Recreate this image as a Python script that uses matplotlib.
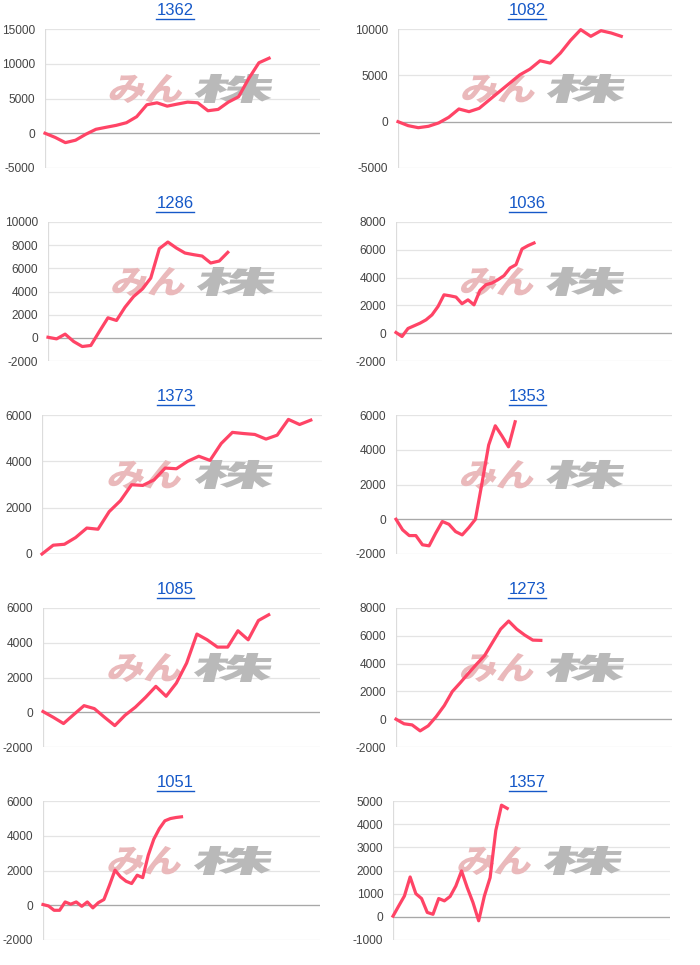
import matplotlib
matplotlib.use("Agg")
import matplotlib.pyplot as plt
from matplotlib.lines import Line2D
from matplotlib.patches import PathPatch
from matplotlib.textpath import TextPath
from matplotlib.font_manager import FontProperties
from matplotlib.transforms import Affine2D
import numpy as np

plt.rcParams["axes.unicode_minus"] = False

# stock codes, in reading order (left->right, top->bottom)
codes = ["1362", "1082", "1286", "1036", "1373", "1353", "1085", "1273", "1051", "1357"]

s1362 = [0, -600, -1350, -1000, -150, 570, 860, 1140, 1520, 2380, 4100, 4380, 3900,
         4200, 4480, 4380, 3240, 3430, 4480, 5240, 7860, 10140, 10800]
s1082 = [0, -430, -650, -500, -140, 470, 1370, 1080, 1440, 2350, 3250, 4150, 5050,
         5670, 6570, 6320, 7400, 8770, 9930, 9210, 9820, 9570, 9210]
s1286 = [50, -90, 320, -320, -750, -660, 550, 1730, 1500, 2650, 3570, 4200, 5160,
         7700, 8270, 7750, 7320, 7180, 7060, 6460, 6630, 7380]
s1036 = [50, -240, 340, 530, 720, 960, 1320, 1920, 2760, 2690, 2600, 2120, 2400,
         2040, 3080, 3490, 3610, 3850, 4140, 4690, 4930, 6060, 6300, 6490]
s1373 = [0, 380, 420, 710, 1120, 1070, 1830, 2300, 2990, 2960, 3200, 3710, 3680,
         4000, 4220, 4040, 4770, 5250, 5200, 5160, 4960, 5130, 5810, 5590, 5780]
s1353 = [0, -610, -940, -940, -1470, -1530, -800, -130, -290, -710, -900, -480, 0,
         2100, 4270, 5380, 4800, 4170, 5610]
s1085 = [40, -290, -650, -130, 380, 210, -290, -770, -170, 290, 860, 1490, 920,
         1680, 2830, 4500, 4170, 3750, 3750, 4690, 4170, 5280, 5610]
s1273 = [0, -330, -410, -840, -480, 190, 980, 1990, 2630, 3300, 3950, 4570, 5530,
         6480, 7060, 6480, 6050, 5690, 5670]
s1051 = [40, -40, -290, -290, 190, 60, 190, -60, 190, -150, 150, 330, 1150, 2020,
         1630, 1380, 1250, 1730, 1590, 2880, 3800, 4410, 4860, 4990, 5050, 5090]
s1357 = [30, 470, 900, 1720, 1000, 790, 190, 110, 790, 690, 880, 1330, 1980, 1260,
         620, -170, 900, 1690, 3730, 4820, 4680]

series = [s1362, s1082, s1286, s1036, s1373, s1353, s1085, s1273, s1051, s1357]

# y tick ranges (min, max, step)
yticks = [(-5000, 15000, 5000), (-5000, 10000, 5000), (-2000, 10000, 2000),
          (-2000, 8000, 2000), (0, 6000, 2000), (-2000, 6000, 2000),
          (-2000, 6000, 2000), (-2000, 8000, 2000), (-2000, 6000, 2000),
          (-1000, 5000, 1000)]

# length of the x domain (number of slots - 1)
x_span = [27, 27, 32, 46, 25, 41.7, 27, 34.3, 50, 48.5]

# layout in pixels
W, H = 700, 965
lefts = [45, 398, 48, 396, 42, 396, 43, 396, 43, 393]
rights = [320, 672, 322, 672, 322, 672, 320, 672, 320, 670]
tops = [29, 222, 415, 608, 801]
ax_h = 139

LINE = "#ff4466"
TITLE = "#1558c8"
mark_font = FontProperties(family="Noto Sans CJK JP", weight="black")


def watermark(ax, text, fx, fy, w, h, color):
    # stretched, slanted text drawn in display pixels
    tp = TextPath((0, 0), text, size=1, prop=mark_font)
    ext = tp.get_extents()
    px, py = ax.transAxes.transform((fx, fy))
    tr = (Affine2D()
          .translate(-ext.x0 - ext.width / 2, -ext.y0 - ext.height / 2)
          .scale(w / ext.width, h / ext.height)
          .skew_deg(14, 0)
          .translate(px, py))
    patch = PathPatch(tr.transform_path(tp), facecolor=color, edgecolor="none",
                      transform=None, zorder=1.5)
    patch.set_transform(Affine2D())
    ax.add_artist(patch)


fig = plt.figure(figsize=(W / 100, H / 100), dpi=100)
fig.patch.set_facecolor("white")

titles = []
for i, (code, vals) in enumerate(zip(codes, series)):
    row = i // 2
    l, r, t = lefts[i], rights[i], tops[row]
    ax = fig.add_axes([l / W, 1 - (t + ax_h) / H, (r - l) / W, ax_h / H])

    lo, hi, step = yticks[i]
    ax.set_ylim(lo, hi)
    ax.set_yticks(np.arange(lo, hi + 1, step))
    ax.set_xlim(0, x_span[i])
    ax.set_xticks([])
    ax.tick_params(axis="y", length=0, pad=7, labelsize=8.6, labelcolor="#444444")
    for lab in ax.get_yticklabels():
        lab.set_fontfamily("Liberation Sans")
    for sp in ax.spines.values():
        sp.set_visible(False)
    ax.grid(axis="y", color="#e4e4e4", linewidth=0.9)
    ax.set_axisbelow(True)
    ax.axhline(0, color="#a8a8a8", linewidth=0.9, zorder=1)
    ax.axvline(0, color="#dcdcdc", linewidth=0.9, zorder=1)

    watermark(ax, "みん", 0.372, 0.572, 72, 29, "#eab9bb")
    watermark(ax, "株", 0.69, 0.572, 78, 29, "#b9b9b9")

    ax.plot(np.arange(len(vals)), vals, color=LINE, linewidth=2.3,
            solid_joinstyle="round", zorder=3, clip_on=False)

    cx = (175 if i % 2 == 0 else 527) / W
    tt = fig.text(cx, 1 - (t - 18.5) / H, code, ha="center", va="center",
                  fontsize=12, color=TITLE, family="Liberation Sans")
    titles.append(tt)

# underline titles
fig.canvas.draw()
rend = fig.canvas.get_renderer()
for tt in titles:
    bb = tt.get_window_extent(rend).transformed(fig.transFigure.inverted())
    y = bb.y0 - 1.0 / H
    fig.add_artist(Line2D([bb.x0, bb.x1], [y, y], transform=fig.transFigure,
                          color=TITLE, linewidth=1.0))

fig.savefig("out.png", dpi=100, facecolor="white")
